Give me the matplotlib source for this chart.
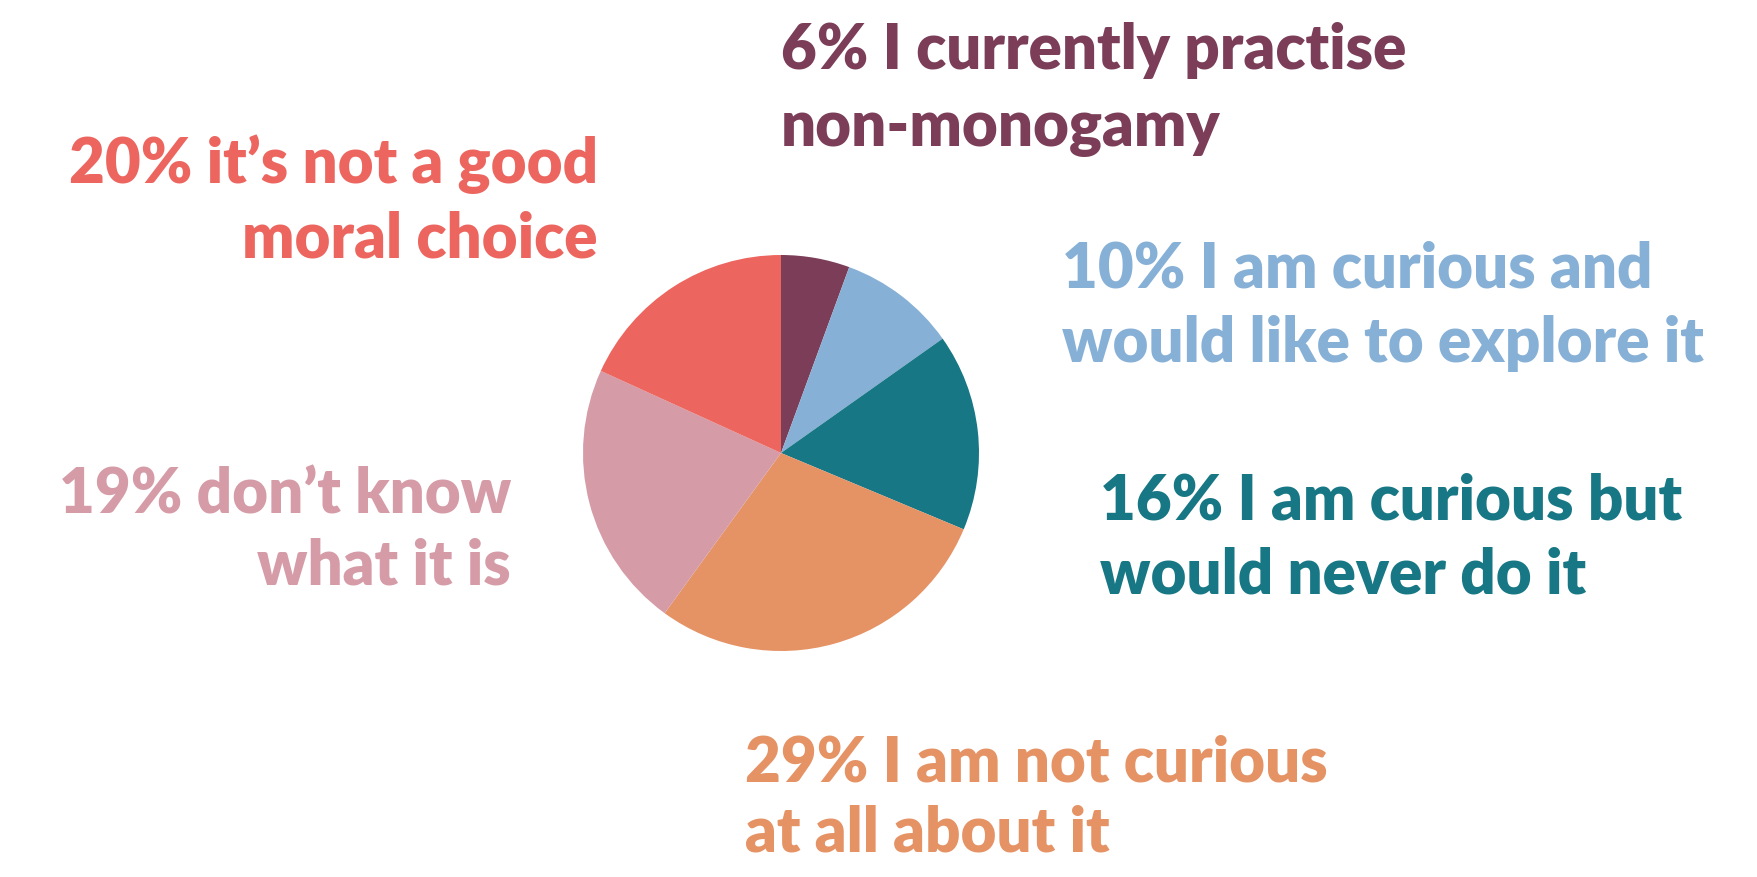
import matplotlib
matplotlib.use('Agg')
import matplotlib.pyplot as plt

# wedge sizes as drawn, clockwise from 12 o'clock
shares = [5.6, 9.6, 16.1, 28.7, 21.8, 18.2]
labels = [
    '6% I currently practise\nnon-monogamy',
    '10% I am curious and\nwould like to explore it',
    '16% I am curious but\nwould never do it',
    '29% I am not curious\nat all about it',
    '19% don\u2019t know\nwhat it is',
    '20% it\u2019s not a good\nmoral choice',
]
colors = ['#7B3D57', '#87B0D6', '#177784', '#E59265', '#D59CA7', '#EC665F']

W, H = 1758, 878
fig = plt.figure(figsize=(W / 100, H / 100), dpi=100)
fig.patch.set_facecolor('white')

# pie: centre (781, 454) px, radius 198 px
cx, cy, r = 781, 454, 198
ax = fig.add_axes([(cx - r) / W, (H - cy - r) / H, 2 * r / W, 2 * r / H])
ax.pie(shares, colors=colors, startangle=90, counterclock=False,
       wedgeprops=dict(linewidth=0))
ax.set_xlim(-1, 1)
ax.set_ylim(-1, 1)
ax.axis('off')

# label anchors in pixels: (x, first baseline, second baseline, alignment)
anchors = [
    (781, 69, 146, 'left'),
    (1062, 288, 362, 'left'),
    (1100, 519, 594, 'left'),
    (745, 781, 852, 'left'),
    (511, 513, 585, 'right'),
    (598, 183, 258, 'right'),
]

for text, col, (x, y1, y2, ha) in zip(labels, colors, anchors):
    for line, y in zip(text.split('\n'), (y1, y2)):
        fig.text(x / W, 1 - y / H, line, ha=ha, va='baseline', color=col,
                 fontsize=44.5, fontweight='heavy', family='Lato')

fig.savefig('out.png', dpi=100)
